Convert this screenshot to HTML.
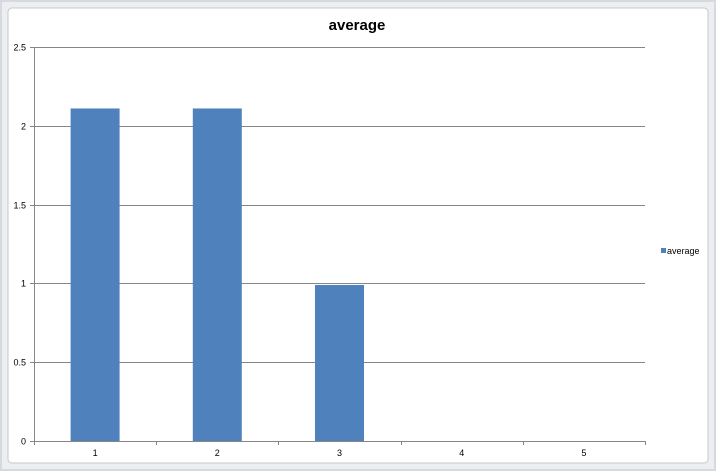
<!DOCTYPE html>
<html><head><meta charset="utf-8"><style>
html,body{margin:0;padding:0;background:#fff;}
svg{display:block;font-family:"Liberation Sans",sans-serif;}
</style></head><body>
<svg id="chart" width="716" height="471" viewBox="0 0 716 471">
  <rect x="0" y="0" width="716" height="471" fill="#d6d9dd"/>
  <rect x="2" y="2" width="712" height="467" fill="#eceef1"/>
  <rect x="8" y="8" width="700" height="455" rx="4" fill="#ffffff" stroke="#c8c8c8"/>
  <text x="357" y="30" text-anchor="middle" font-size="15" font-weight="bold" fill="#000">average</text>
  <g id="grid"></g>
  <g id="bars"></g>
  <g id="axes"></g>
  <g>
    <rect x="661" y="248" width="5" height="5" fill="#4f81bd"/>
    <text x="667" y="254" font-size="9" fill="#000">average</text>
  </g>
</svg>
<script>
const categories = ["1","2","3","4","5"];
const values = [2.11, 2.11, 0.99, 0, 0];
const yTicks = [0, 0.5, 1, 1.5, 2, 2.5];
const yTickLabels = ["0","0.5","1","1.5","2","2.5"];

const X0 = 34, X1 = 645, Y0 = 441, Y1 = 47, YMAX = 2.5;
const NS = "http://www.w3.org/2000/svg";
const bandW = (X1 - X0) / categories.length;
function y(v){ return Y0 - (v / YMAX) * (Y0 - Y1); }
function xc(i){ return X0 + bandW * (i + 0.5); }
function mk(tag, attrs, parent){
  const e = document.createElementNS(NS, tag);
  for (const k in attrs) e.setAttribute(k, attrs[k]);
  parent.appendChild(e); return e;
}
const grid = document.getElementById('grid');
const bars = document.getElementById('bars');
const axes = document.getElementById('axes');

yTicks.forEach((t, i) => {
  const yy = Math.round(y(t)) + 0.5;
  if (t > 0) {
    const g = mk('line', {x1: X0, x2: X1, y1: yy, y2: yy, stroke: '#868686', 'stroke-width': 1}, grid);
    
    
  }
  const tk = mk('line', {x1: X0 - 4, x2: X0, y1: yy, y2: yy, stroke: '#868686'}, axes);
  
  
  const lb = mk('text', {x: X0 - 8, y: yy + 3, 'text-anchor': 'end', 'font-size': 9, fill: '#000'}, axes);
  lb.textContent = yTickLabels[i];
  
  
});

values.forEach((v, i) => {
  if (v <= 0) return;
  const bw = 49;
  const r = mk('rect', {x: xc(i) - bw / 2, y: y(v), width: bw, height: Y0 - y(v), fill: '#4f81bd'}, bars);
  
  
});

const ya = mk('line', {x1: X0 + 0.5, x2: X0 + 0.5, y1: Y1, y2: Y0, stroke: '#868686'}, axes);


const xa = mk('line', {x1: X0, x2: X1, y1: Y0 + 0.5, y2: Y0 + 0.5, stroke: '#868686'}, axes);


for (let i = 0; i <= categories.length; i++) {
  const xx = Math.round(X0 + bandW * i) + 0.5;
  const t = mk('line', {x1: xx, x2: xx, y1: Y0, y2: Y0 + 4, stroke: '#868686'}, axes);
  
  
}
categories.forEach((c, i) => {
  const lb = mk('text', {x: xc(i), y: Y0 + 15, 'text-anchor': 'middle', 'font-size': 9, fill: '#000'}, axes);
  lb.textContent = c;
  
  
});
</script>
</body></html>
